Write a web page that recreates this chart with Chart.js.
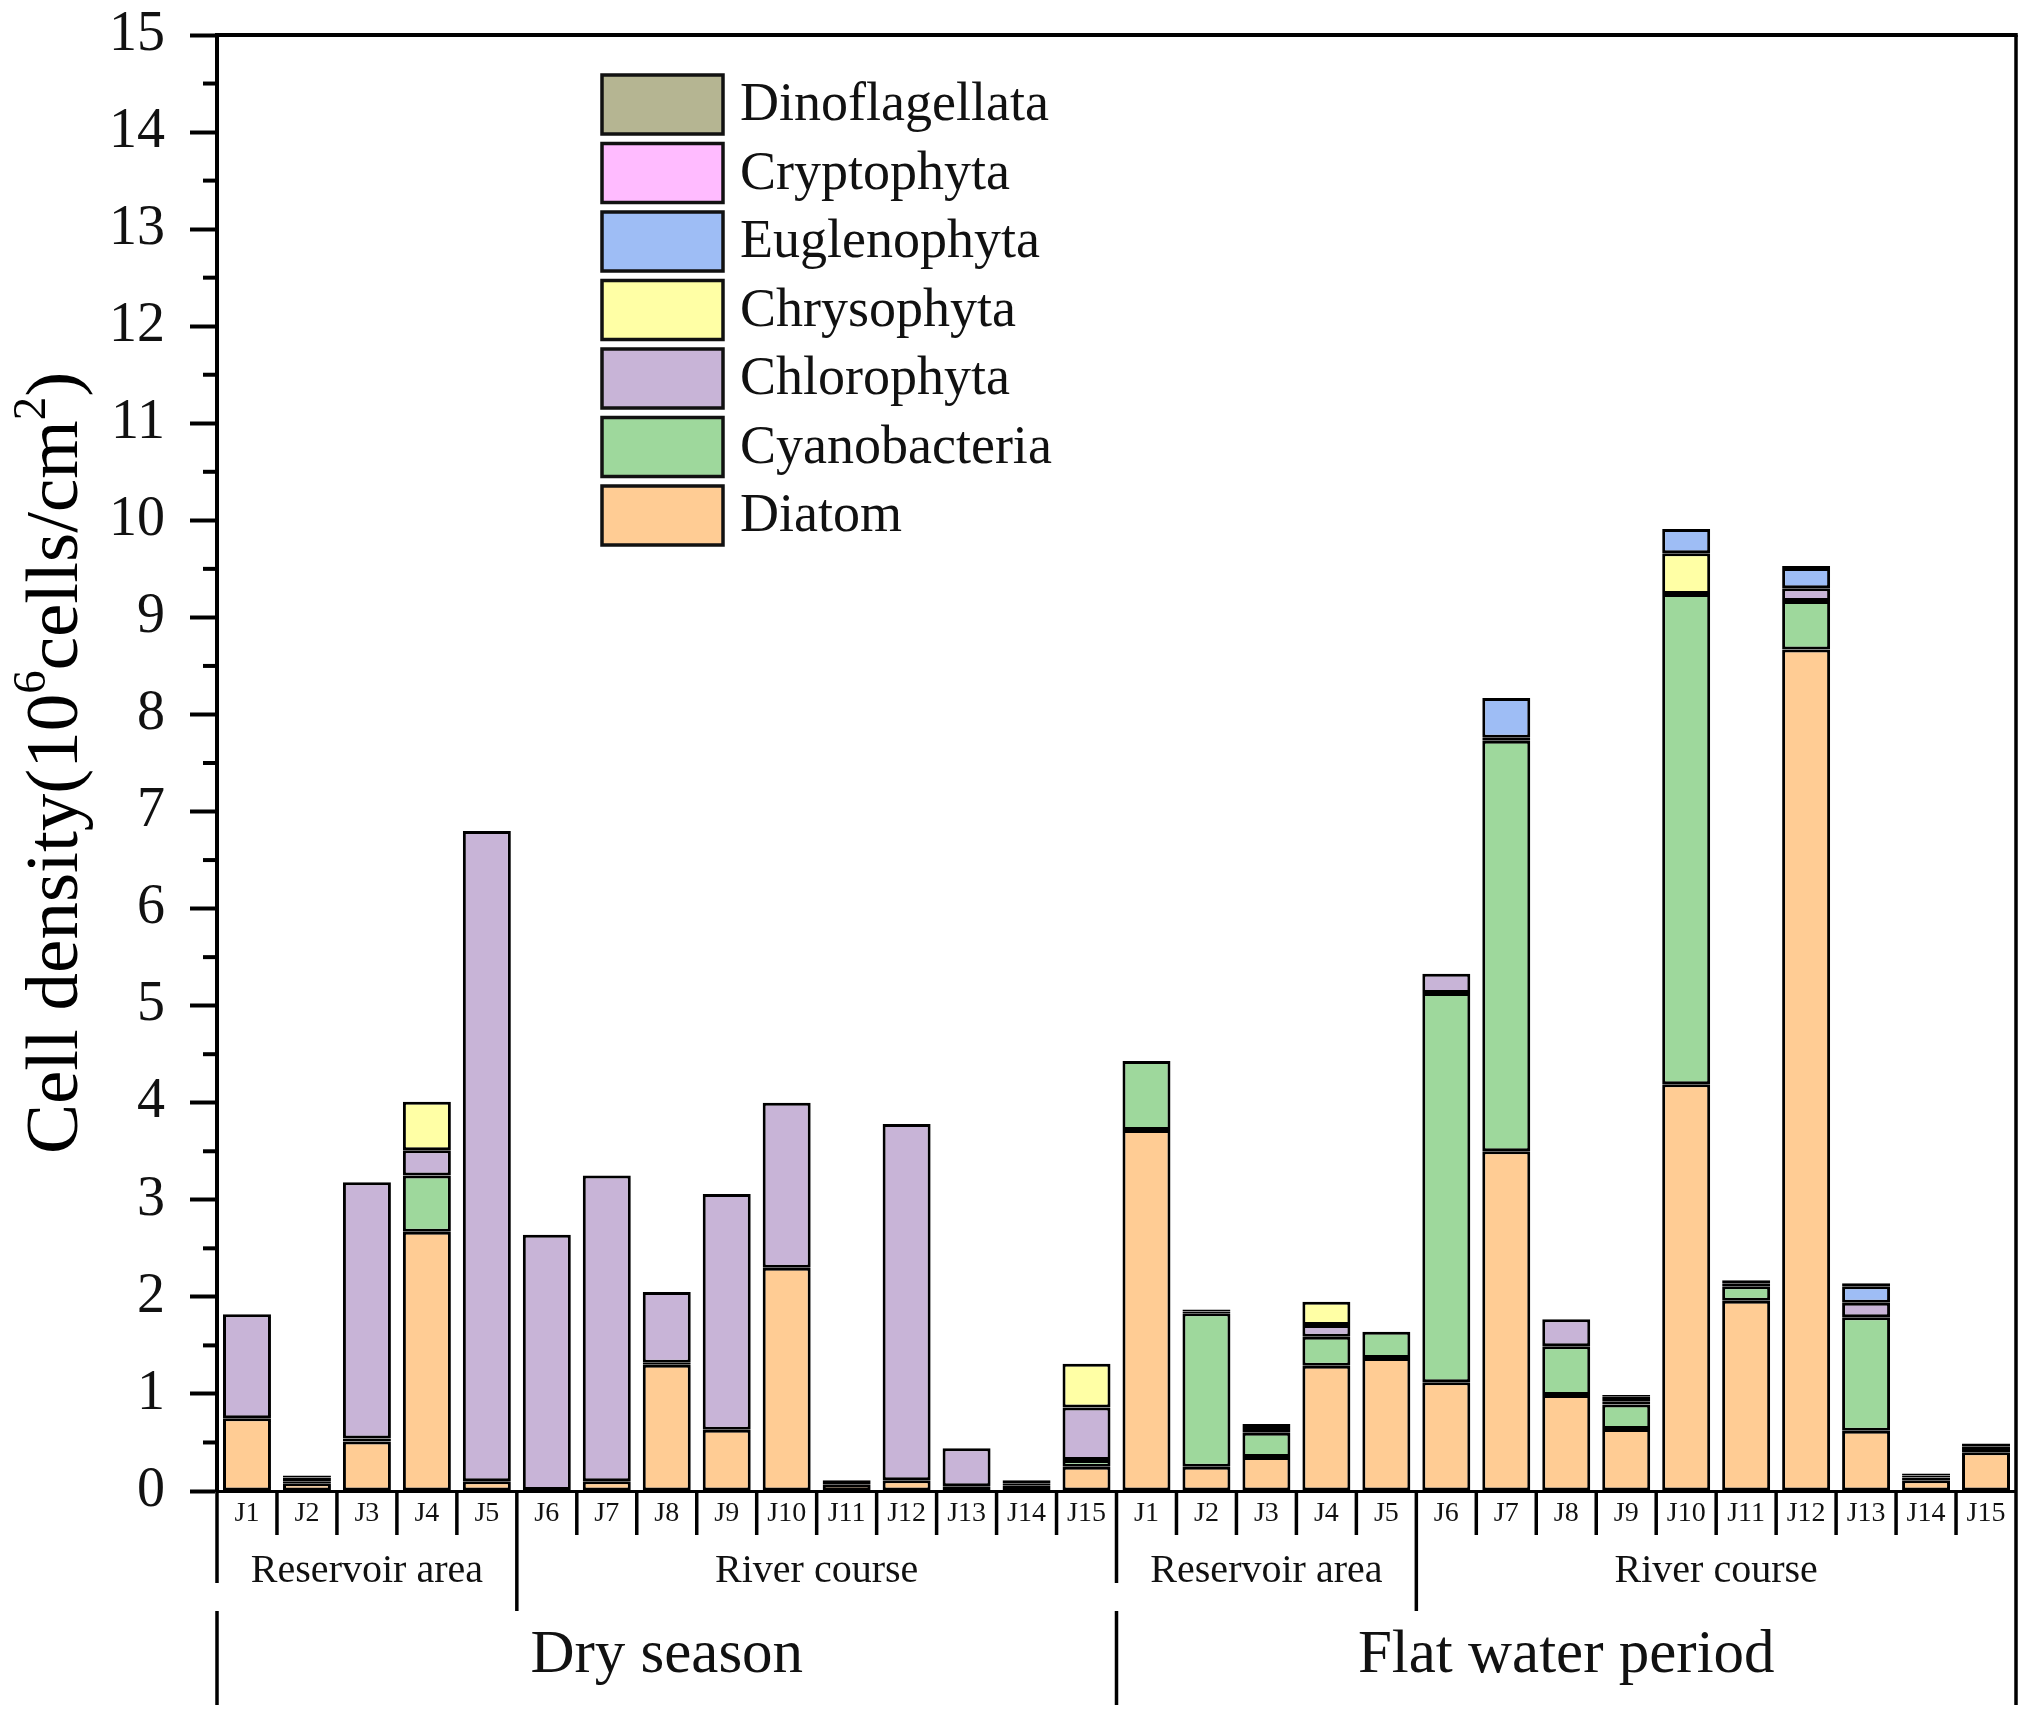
<!DOCTYPE html>
<html>
<head>
<meta charset="utf-8">
<title>Cell density by site</title>
<script src="https://cdn.jsdelivr.net/npm/chart.js@4.4.1/dist/chart.umd.min.js"></script>
<style>
    html, body { margin: 0; padding: 0; background: #fff; }
    #chart { display: block; }
</style>
</head>
<body>
<canvas id="chart" width="2041" height="1726"></canvas>
<script>
// Sites: 15 in the dry season, then the same 15 in the flat water period
const siteLabels = ['J1', 'J2', 'J3', 'J4', 'J5', 'J6', 'J7', 'J8', 'J9', 'J10', 'J11', 'J12', 'J13', 'J14', 'J15',
                    'J1', 'J2', 'J3', 'J4', 'J5', 'J6', 'J7', 'J8', 'J9', 'J10', 'J11', 'J12', 'J13', 'J14', 'J15'];
const seasonLabels = ['Dry season', 'Flat water period'];
const areaLabels = ['Reservoir area', 'River course'];
const sitesPerSeason = 15;
const reservoirSites = 5;
const yTicks = [0, 15, 1];

// Cell density, 10^6 cells/cm2 (null = nothing drawn)
const diatom = [0.75, 0.08, 0.51, 2.67, 0.10, 0.01, 0.10, 1.30, 0.63, 2.30, 0.07, 0.11, 0.05, 0.06, 0.25,
                3.72, 0.25, 0.35, 1.29, 1.37, 1.12, 3.50, 0.99, 0.64, 4.19, 1.96, 8.67, 0.62, 0.11, 0.40];
const cyanobacteria = [null, 0.02, 0.03, 0.58, null, null, null, 0.02, null, null, null, null, null, 0.02, 0.07,
                       0.71, 1.58, 0.25, 0.30, 0.27, 4.01, 4.23, 0.50, 0.25, 5.05, 0.15, 0.50, 1.17, 0.03, 0.06];
const chlorophyta = [1.07, 0.04, 2.64, 0.26, 6.70, 2.63, 3.15, 0.73, 2.43, 1.70, 0.04, 3.67, 0.39, 0.03, 0.54,
                     null, 0.02, 0.04, 0.12, null, 0.20, 0.03, 0.28, 0.03, null, 0.03, 0.13, 0.15, 0.02, 0.03];
const chrysophyta = [null, null, null, 0.50, null, null, null, null, null, null, null, null, null, null, 0.45,
                     null, null, null, 0.24, null, null, null, null, null, 0.42, null, null, null, null, null];
const euglenophyta = [null, 0.02, null, null, null, null, null, null, null, null, null, null, null, null, null,
                      null, 0.02, 0.03, null, null, null, 0.41, null, 0.05, 0.25, 0.03, 0.21, 0.17, 0.02, null];
const cryptophyta = [null, null, null, null, null, null, null, null, null, null, null, null, null, null, null,
                     null, null, 0.02, null, null, null, null, null, 0.02, null, null, 0.02, 0.03, null, null];
const dinoflagellata = [null, null, null, null, null, null, null, null, null, null, null, null, null, null, null,
                        null, null, null, null, null, null, null, null, null, null, null, null, null, null, null];

const serif = '"Liberation Serif", "Times New Roman", "DejaVu Serif", serif';

function makeSet(label, data, color) {
    return {
        label: label,
        data: data,
        backgroundColor: color,
        borderColor: '#000',
        borderWidth: 3,
        borderSkipped: false,
        barPercentage: 0.8,
        categoryPercentage: 1
    };
}

// Long separators, group and season labels under the x axis
const bottomLabels = {
    id: 'bottomLabels',
    afterDraw(chart) {
        const ctx = chart.ctx;
        const x = chart.scales.x;
        const area = chart.chartArea;
        const half = (x.getPixelForValue(1) - x.getPixelForValue(0)) / 2;
        const edge = i => i < siteLabels.length ? x.getPixelForValue(i) - half : x.getPixelForValue(i - 1) + half;
        const base = area.bottom;

        ctx.save();
        ctx.strokeStyle = '#000';
        ctx.lineCap = 'butt';
        for (let i = 0; i <= siteLabels.length; i++) {
            const px = edge(i);
            const inSeason = i % sitesPerSeason;
            ctx.lineWidth = 3.5;
            ctx.beginPath();
            if (inSeason === 0 && i < siteLabels.length) {
                ctx.moveTo(px, base); ctx.lineTo(px, base + 92);
                ctx.moveTo(px, base + 120); ctx.lineTo(px, base + 214);
            } else if (i === siteLabels.length) {
                ctx.moveTo(px, area.top); ctx.lineTo(px, base + 214);
            } else if (inSeason === reservoirSites) {
                ctx.moveTo(px, base); ctx.lineTo(px, base + 120);
            } else {
                ctx.moveTo(px, base); ctx.lineTo(px, base + 44);
            }
            ctx.stroke();
        }

        // top frame line
        ctx.lineWidth = 4;
        ctx.beginPath();
        ctx.moveTo(area.left, area.top);
        ctx.lineTo(area.right + 1.75, area.top);
        ctx.stroke();

        ctx.fillStyle = '#111';
        ctx.textAlign = 'center';
        ctx.textBaseline = 'middle';
        for (let s = 0; s < seasonLabels.length; s++) {
            const start = s * sitesPerSeason;
            ctx.font = '40px ' + serif;
            ctx.fillText(areaLabels[0], (edge(start) + edge(start + reservoirSites)) / 2, base + 80);
            ctx.fillText(areaLabels[1], (edge(start + reservoirSites) + edge(start + sitesPerSeason)) / 2, base + 80);
            ctx.font = '61px ' + serif;
            ctx.fillText(seasonLabels[s], (edge(start) + edge(start + sitesPerSeason)) / 2, base + 165);
        }
        ctx.restore();
    }
};

// Minor ticks on the y axis, rotated axis title and the boxed legend
const axisExtras = {
    id: 'axisExtras',
    afterDraw(chart) {
        const ctx = chart.ctx;
        const y = chart.scales.y;
        const area = chart.chartArea;

        ctx.save();
        ctx.strokeStyle = '#000';
        ctx.lineWidth = 4;
        for (let v = yTicks[0] + 0.5; v < yTicks[1]; v += yTicks[2]) {
            const py = y.getPixelForValue(v);
            ctx.beginPath();
            ctx.moveTo(area.left - 14, py);
            ctx.lineTo(area.left, py);
            ctx.stroke();
        }

        // y title with superscripts
        const size = 75;
        const parts = [['Cell density(10', false], ['6', true], ['cells/cm', false], ['2', true], [')', false]];
        const fontFor = sup => (sup ? Math.round(size * 0.62) : size) + 'px ' + serif;
        let total = 0;
        parts.forEach(p => { ctx.font = fontFor(p[1]); total += ctx.measureText(p[0]).width; });
        ctx.translate(52, (area.top + area.bottom) / 2);
        ctx.rotate(-Math.PI / 2);
        ctx.fillStyle = '#000';
        ctx.textAlign = 'left';
        ctx.textBaseline = 'alphabetic';
        let cx = -total / 2;
        parts.forEach(p => {
            ctx.font = fontFor(p[1]);
            ctx.fillText(p[0], cx, p[1] ? size * 0.33 - size * 0.42 : size * 0.33);
            cx += ctx.measureText(p[0]).width;
        });
        ctx.restore();

        // legend, top entry is the last stacked series
        ctx.save();
        const sets = chart.data.datasets.slice().reverse();
        sets.forEach((ds, i) => {
            const top = 75 + i * 68.5;
            ctx.fillStyle = ds.backgroundColor;
            ctx.fillRect(602, top, 121, 59);
            ctx.strokeStyle = '#111';
            ctx.lineWidth = 3.5;
            ctx.strokeRect(602, top, 121, 59);
            ctx.fillStyle = '#111';
            ctx.font = '54px ' + serif;
            ctx.textAlign = 'left';
            ctx.textBaseline = 'middle';
            ctx.fillText(ds.label, 740, top + 31);
        });
        ctx.restore();
    }
};

const ctx = document.getElementById('chart').getContext('2d');
new Chart(ctx, {
    type: 'bar',
    data: {
        labels: siteLabels,
        datasets: [
            makeSet('Diatom', diatom, 'rgb(255, 204, 148)'),
            makeSet('Cyanobacteria', cyanobacteria, 'rgb(158, 216, 156)'),
            makeSet('Chlorophyta', chlorophyta, 'rgb(200, 180, 215)'),
            makeSet('Chrysophyta', chrysophyta, 'rgb(255, 255, 165)'),
            makeSet('Euglenophyta', euglenophyta, 'rgb(158, 189, 245)'),
            makeSet('Cryptophyta', cryptophyta, 'rgb(255, 187, 255)'),
            makeSet('Dinoflagellata', dinoflagellata, 'rgb(181, 181, 146)')
        ]
    },
    options: {
        responsive: false,
        devicePixelRatio: 1,
        animation: false,
        layout: { padding: { top: 35, right: 25, left: 0, bottom: 0 } },
        plugins: {
            legend: { display: false },
            tooltip: { enabled: false }
        },
        scales: {
            x: {
                stacked: true,
                afterFit: scale => { scale.height = 235; },
                grid: { display: true, drawOnChartArea: false, drawTicks: false },
                border: { display: true, color: '#000', width: 3 },
                ticks: {
                    autoSkip: false,
                    maxRotation: 0,
                    padding: 9,
                    color: '#111',
                    font: { family: serif, size: 28, lineHeight: 1 }
                }
            },
            y: {
                stacked: true,
                min: yTicks[0],
                max: yTicks[1],
                afterFit: scale => {
                    scale.width = 217;
                    scale.paddingTop = 0;
                    scale.paddingBottom = 0;
                },
                grid: { drawOnChartArea: false, drawTicks: true, tickLength: 27, tickWidth: 4, tickColor: '#000' },
                border: { display: true, color: '#000', width: 4 },
                ticks: {
                    stepSize: yTicks[2],
                    padding: 25,
                    color: '#111',
                    font: { family: serif, size: 56, lineHeight: 1 }
                }
            }
        }
    },
    plugins: [bottomLabels, axisExtras]
});
</script>
</body>
</html>
